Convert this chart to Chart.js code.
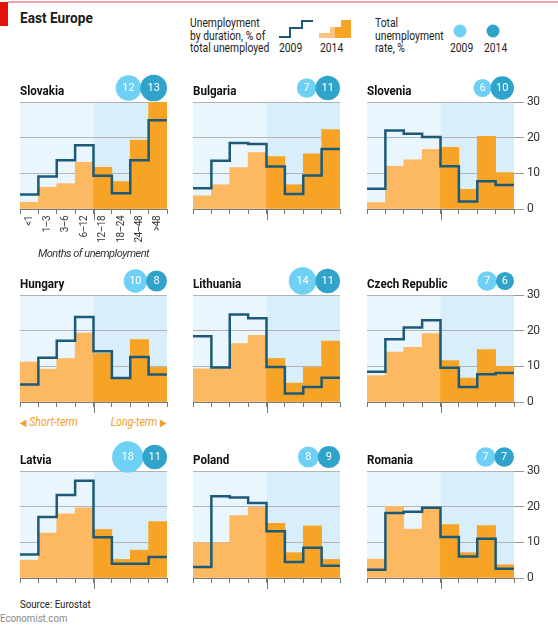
<!DOCTYPE html>
<html>
<head>
<meta charset="utf-8">
<script src="https://cdn.jsdelivr.net/npm/chart.js@4.4.1/dist/chart.umd.min.js"></script>
<style>
  body { margin: 0; background: #fff; }
  #page { position: relative; width: 558px; height: 626px; overflow: hidden; font-family: Roboto, sans-serif; color: #222; }
  #page canvas { position: absolute; }
  .txt { position: absolute; white-space: nowrap; transform-origin: 0 0; }
  .title { font-weight: bold; font-size: 13.5px; line-height: 15px; color: #111; transform: scaleX(0.86); }
  .leg { font-size: 12px; line-height: 12.5px; color: #222; transform: scaleX(0.86); }
  .term { font-size: 12.5px; font-style: italic; color: #f5a01f; line-height: 14px; transform: scaleX(0.84); }
  .tri { font-style: normal; font-size: 10px; }
</style>
</head>
<body>
<div id="page">
  <div class="txt" style="left:0;top:2px;width:8px;height:24px;background:#e3120b"></div>
  <div class="txt" style="left:8px;top:1px;width:550px;height:2px;background:#f3a3a3"></div>
  <div class="txt" style="left:20px;top:9px;font-weight:bold;font-size:15px;color:#1a1a1a;transform:scaleX(0.91)">East Europe</div>

  <div class="txt leg" style="left:190px;top:17px">Unemployment<br>by duration, % of<br>total unemployed</div>
  <svg class="txt" style="left:278px;top:18px" width="80" height="22">
    <polyline points="1,19 12,19 12,10 24,10 24,3 35,3" fill="none" stroke="#1d5a78" stroke-width="2"/>
    <rect x="41" y="15" width="12" height="5" fill="#fcc47e"/>
    <rect x="52" y="9" width="5" height="11" fill="#fcc47e"/>
    <rect x="57" y="9" width="7" height="11" fill="#f7a326"/>
    <rect x="63" y="2" width="10" height="18" fill="#f7a326"/>
  </svg>
  <div class="txt leg" style="left:279px;top:42px">2009</div>
  <div class="txt leg" style="left:320px;top:42px">2014</div>

  <div class="txt leg" style="left:375px;top:17px">Total<br>unemployment<br>rate, %</div>
  <svg class="txt" style="left:450px;top:24px" width="60" height="16">
    <circle cx="10" cy="7" r="6.5" fill="#6fd0f5"/>
    <circle cx="43" cy="7" r="6.5" fill="#2fa3c9"/>
  </svg>
  <div class="txt leg" style="left:450px;top:42px">2009</div>
  <div class="txt leg" style="left:484px;top:42px">2014</div>

  <div class="txt term" style="left:20px;top:415px"><span class="tri">&#9664;</span>&nbsp;Short-term</div>
  <div class="txt term" style="right:391px;top:415px;transform-origin:100% 0">Long-term&nbsp;<span class="tri">&#9654;</span></div>

  <div class="txt" style="left:20px;top:597px;font-size:11.5px;color:#222;transform:scaleX(0.84)">Source: Eurostat</div>
  <div class="txt" style="left:0;top:611px;font-size:11.5px;color:#888;transform:scaleX(0.84)">Economist.com</div>
</div>
<script>
// ---- data ----
const BINS = ["<1", "1\u20133", "3\u20136", "6\u201312", "12\u201318", "18\u201324", "24\u201348", ">48"];
const COUNTRIES = ["Slovakia", "Bulgaria", "Slovenia", "Hungary", "Lithuania", "Czech Republic", "Latvia", "Poland", "Romania"];
const RATE_2009 = [12, 7, 6, 10, 14, 7, 18, 8, 7];
const RATE_2014 = [13, 11, 10, 8, 11, 6, 11, 9, 7];
const Y_MAX = 30;
const Y_STEP = 10;

// % of total unemployed, by duration bin
const slovakia2009  = [4.1, 9.1, 13.7, 17.9, 9.3, 4.4, 13.7, 24.9];
const slovakia2014  = [1.9, 6.1, 7.1, 13.1, 11.7, 7.7, 19.3, 30];
const bulgaria2009  = [5.8, 13.5, 18.5, 18.2, 11.9, 4.2, 9.4, 16.8];
const bulgaria2014  = [3.7, 6.8, 11.6, 15.8, 14.7, 6.8, 15.5, 22.3];
const slovenia2009  = [5.7, 22, 21.1, 20.2, 12, 2.1, 7.8, 6.7];
const slovenia2014  = [1.8, 12, 13.8, 16.7, 17.3, 5.5, 20.4, 10.2];
const hungary2009   = [4.9, 12.4, 17.2, 23.8, 14.2, 6.7, 12.6, 7.7];
const hungary2014   = [11.2, 9.2, 12.2, 19.3, 13.6, 6.7, 17.5, 9.7];
const lithuania2009 = [18.4, 9.7, 24.5, 23.5, 9.8, 2.4, 4.2, 6.8];
const lithuania2014 = [9.3, 9.3, 16.4, 18.7, 12.2, 5.3, 9.7, 17.1];
const czech2009     = [8.5, 17.6, 20.9, 22.9, 9.6, 4.2, 7.8, 8.1];
const czech2014     = [7.4, 14, 15.3, 19.2, 11.6, 6.7, 14.7, 10];
const latvia2009    = [6.6, 17.1, 23.3, 27.3, 11.4, 4.0, 4.0, 5.9];
const latvia2014    = [5.0, 12.6, 18, 19.7, 13.6, 5.2, 7.8, 15.8];
const poland2009    = [3.1, 22.9, 22.6, 21, 13.1, 4.5, 8.5, 3.4];
const poland2014    = [9.9, 9.9, 17.5, 19.8, 15.3, 7.1, 14.6, 5.2];
const romania2009   = [2.3, 18.2, 18.6, 19.7, 11.5, 6, 11, 2.6];
const romania2014   = [5.3, 20.1, 13.7, 19.6, 15, 7.1, 14.7, 3.7];

const DUR_2009 = [slovakia2009, bulgaria2009, slovenia2009, hungary2009, lithuania2009, czech2009, latvia2009, poland2009, romania2009];
const DUR_2014 = [slovakia2014, bulgaria2014, slovenia2014, hungary2014, lithuania2014, czech2014, latvia2014, poland2014, romania2014];

// ---- style / layout ----
const FONT = "Roboto, sans-serif";
const LINE_COL = "#1d5a78";
const SHORT_BAR = "#fcb962";
const LONG_BAR = "#f7a326";
const SHORT_BG = "#eaf6fd";
const LONG_BG = "#d8eefa";
const GRID_COL = "#b4b4b4";
const AXIS_COL = "#777";
const BUB_09 = "#6fd0f5";
const BUB_14 = "#2fa3c9";
const BUB_K = 3.7;

const COL_X = [20, 193, 367];
const ROW_Y = [102, 295, 471];
const PLOT_W = 147;
const PLOT_H = 107;
const PAD_T = 34, PAD_L = 6;

Chart.defaults.font.family = FONT;

const panelDeco = {
  id: "panelDeco",
  beforeDraw(chart) {
    const { ctx, chartArea: a } = chart;
    const x2 = chart.scales.x2;
    const mid = x2.getPixelForValue(BINS.length / 2);
    ctx.save();
    ctx.fillStyle = SHORT_BG;
    ctx.fillRect(a.left, a.top, mid - a.left, a.bottom - a.top);
    ctx.fillStyle = LONG_BG;
    ctx.fillRect(mid, a.top, a.right - mid, a.bottom - a.top);
    ctx.restore();
    // tighter text, closer to the narrow house font
    ctx.letterSpacing = "-0.5px";
  },
  afterDraw(chart, args, opts) {
    const { ctx, chartArea: a } = chart;
    const x2 = chart.scales.x2;
    const mid = Math.round(x2.getPixelForValue(BINS.length / 2)) + 0.5;
    ctx.save();
    // longer tick between short- and long-term
    ctx.strokeStyle = AXIS_COL;
    ctx.lineWidth = 1;
    ctx.beginPath();
    ctx.moveTo(mid, a.bottom);
    ctx.lineTo(mid, a.bottom + 11);
    ctx.stroke();

    // unemployment-rate bubbles
    const r14 = BUB_K * Math.sqrt(opts.r14);
    const r09 = BUB_K * Math.sqrt(opts.r09);
    const cy = a.top - 14;
    const x14 = a.right - r14;
    const x09 = x14 - r14 - r09 + 1;
    ctx.textAlign = "center";
    ctx.textBaseline = "middle";
    ctx.font = "11px " + FONT;
    ctx.letterSpacing = "0px";
    [[x09, r09, BUB_09, opts.r09], [x14, r14, BUB_14, opts.r14]].forEach(([x, r, c, v]) => {
      ctx.fillStyle = c;
      ctx.beginPath();
      ctx.arc(x, cy, r, 0, Math.PI * 2);
      ctx.fill();
      ctx.fillStyle = "#fff";
      ctx.fillText(String(v), x, cy + 0.5);
    });
    ctx.restore();
  }
};

const page = document.getElementById("page");

COUNTRIES.forEach((name, i) => {
  const col = i % 3, row = Math.floor(i / 3);
  const first = i === 0;
  const right = col === 2;
  const axisH = first ? 54 : 14;
  const yW = right ? 36 : 0;
  const padR = right ? 4 : 6;

  const cv = document.createElement("canvas");
  cv.width = PAD_L + PLOT_W + yW + padR;
  cv.height = PAD_T + PLOT_H + axisH;
  cv.style.left = (COL_X[col] - PAD_L) + "px";
  cv.style.top = (ROW_Y[row] - PAD_T) + "px";
  page.appendChild(cv);

  const t = document.createElement("div");
  t.className = "txt title";
  t.style.left = COL_X[col] + "px";
  t.style.top = (ROW_Y[row] - 19) + "px";
  t.textContent = name;
  page.appendChild(t);

  const v09 = DUR_2009[i];
  const stepPts = v09.map((v, k) => ({ x: k, y: v }));
  stepPts.push({ x: v09.length, y: v09[v09.length - 1] });

  new Chart(cv, {
    type: "bar",
    data: {
      labels: BINS,
      datasets: [
        {
          type: "line",
          data: stepPts,
          xAxisID: "x2",
          stepped: true,
          borderColor: LINE_COL,
          borderWidth: 2.5,
          pointRadius: 0,
          fill: false,
          clip: 4,
          order: 0
        },
        {
          type: "bar",
          data: DUR_2014[i],
          xAxisID: "x",
          backgroundColor: BINS.map((_, k) => k < BINS.length / 2 ? SHORT_BAR : LONG_BAR),
          barPercentage: 1,
          categoryPercentage: 1,
          grouped: false,
          borderWidth: 0,
          order: 1
        }
      ]
    },
    options: {
      responsive: false,
      animation: false,
      events: [],
      layout: { padding: { top: PAD_T, left: PAD_L, right: padR, bottom: 0 } },
      plugins: {
        legend: { display: false },
        tooltip: { enabled: false },
        panelDeco: { r09: RATE_2009[i], r14: RATE_2014[i] }
      },
      scales: {
        x: {
          type: "category",
          offset: true,
          grid: { offset: true, drawOnChartArea: false, tickLength: 5, color: AXIS_COL },
          border: { display: true, color: AXIS_COL },
          ticks: {
            display: first, autoSkip: false, minRotation: 90, maxRotation: 90,
            font: { size: 10 }, color: "#333", padding: 2
          },
          title: {
            display: first, text: "Months of unemployment",
            font: { size: 11, style: "italic" }, color: "#333", padding: { top: 2, bottom: 2 }
          },
          afterFit: s => { s.height = axisH; }
        },
        x2: { type: "linear", display: false, offset: false, min: 0, max: BINS.length, grid: { offset: false } },
        y: {
          position: "right",
          min: 0, max: Y_MAX,
          ticks: { stepSize: Y_STEP, display: right, padding: 3, color: "#333", font: { size: 12 } },
          grid: { color: GRID_COL, drawTicks: right, tickLength: 10, tickColor: "#999" },
          border: { display: false },
          afterFit: s => { s.width = yW; }
        }
      }
    },
    plugins: [panelDeco]
  });
});
</script>
</body>
</html>
